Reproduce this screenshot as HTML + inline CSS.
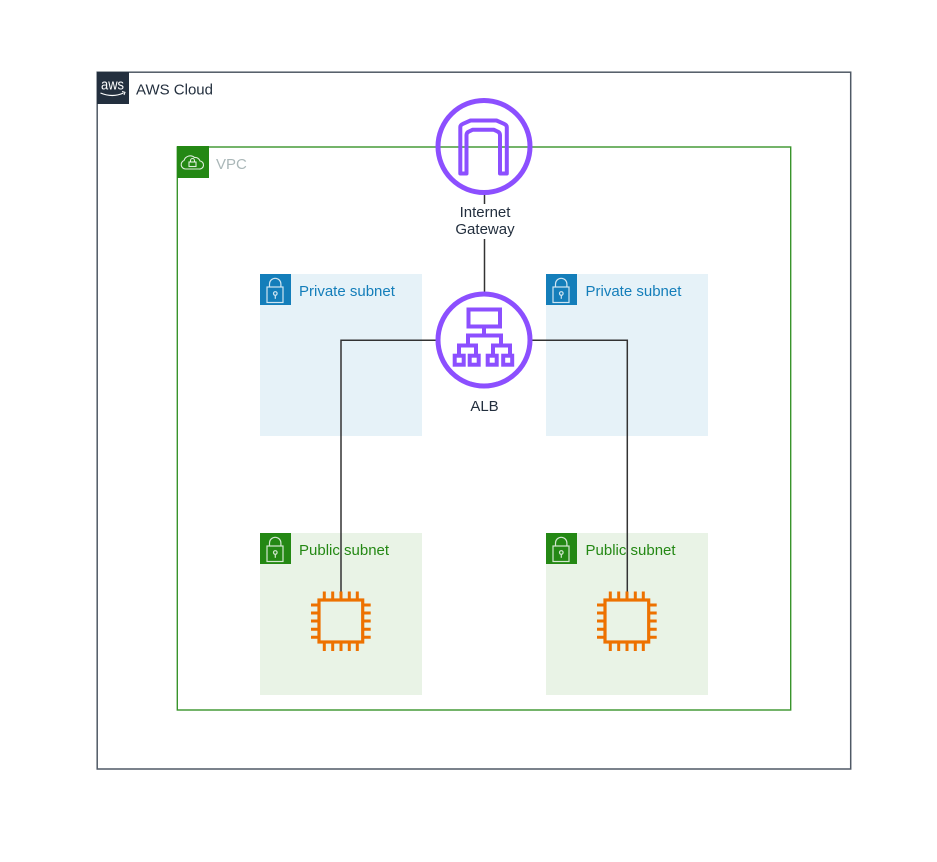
<!DOCTYPE html>
<html>
<head>
<meta charset="utf-8">
<style>
html,body{margin:0;padding:0;background:#fff;width:937px;height:862px;overflow:hidden}
svg{display:block}
text{font-family:"Liberation Sans",Arial,sans-serif;font-size:15px}
</style>
</head>
<body>
<svg width="937" height="862" viewBox="0 0 937 862" xmlns="http://www.w3.org/2000/svg">
<defs>
<g id="ec2" fill="none" stroke="#ED7100" stroke-width="3">
<rect x="319" y="600" width="43.700" height="42" stroke-width="3.200"/>
<path d="M324.300 600v-8.500M332.700 600v-8.500M341 600v-8.500M349.300 600v-8.500M357.300 600v-8.500M324.300 642v9M332.700 642v9M341 642v9M349.300 642v9M357.300 642v9M319 605h-8M319 613h-8M319 621h-8M319 629.300h-8M319 637.300h-8M362.700 605h8M362.700 613h8M362.700 621h8M362.700 629.300h8M362.700 637.300h8"/>
</g>
<g id="lock" fill="none" stroke="#fff" stroke-width="1.200" opacity=".8">
<rect x="267" y="287" width="16" height="15.500"/>
<path d="M269.500 287v-3a5.700 5.700 0 0 1 11.400 0v3"/>
<circle cx="275.300" cy="293.500" r="1.800"/>
<path d="M275.300 295.300v3.500"/>
</g>
</defs>

<rect x="97.200" y="72.200" width="753.500" height="696.800" fill="#fff" stroke="#232F3E" stroke-width="1.500" stroke-opacity=".8"/>
<rect x="97" y="72" width="32" height="32" fill="#232F3E"/>
<text x="101" y="89.500" fill="#fff" style="font-size:15px" textLength="23" lengthAdjust="spacingAndGlyphs">aws</text>
<path d="M100.500 93q12 5 23 0" fill="none" stroke="#fff" stroke-width="1.200"/>
<path d="M122 91.500l3 .8-1 2.700" fill="none" stroke="#fff" stroke-width="1"/>
<text x="136" y="94.500" fill="#232F3E">AWS Cloud</text>

<rect x="177.300" y="147" width="613.400" height="563" fill="none" stroke="#248814" stroke-width="1.400" stroke-opacity=".9"/>
<rect x="177" y="146" width="32" height="32" fill="#248814"/>
<path d="M186 169h13a4 4 0 0 0 1-8 5 5 0 0 0-5.500-3.500 6.500 6.500 0 0 0-10.500 3 4.400 4.400 0 0 0 1.500 8.500z" fill="none" stroke="#fff" stroke-width="1.100" opacity=".85"/>
<rect x="189" y="162" width="7" height="4.500" fill="none" stroke="#fff" stroke-width="1.100" opacity=".85"/>
<path d="M190.500 162v-1.500a2 2 0 0 1 4 0v1.500" fill="none" stroke="#fff" stroke-width="1.100" opacity=".85"/>
<text x="216" y="169" fill="#AAB7B8">VPC</text>

<rect x="260" y="274" width="162" height="162" fill="#E6F2F8"/>
<rect x="260" y="274" width="31" height="31" fill="#147EBA"/>
<use href="#lock"/>
<text x="299" y="296" fill="#147EBA">Private subnet</text>

<rect x="546" y="274" width="162" height="162" fill="#E6F2F8"/>
<rect x="546" y="274" width="31" height="31" fill="#147EBA"/>
<use href="#lock" transform="translate(286 0)"/>
<text x="585.500" y="296" fill="#147EBA">Private subnet</text>

<rect x="260" y="533" width="162" height="162" fill="#E9F3E6"/>
<rect x="260" y="533" width="31" height="31" fill="#248814"/>
<use href="#lock" transform="translate(0 259)"/>
<text x="299" y="555" fill="#248814">Public subnet</text>

<rect x="546" y="533" width="162" height="162" fill="#E9F3E6"/>
<rect x="546" y="533" width="31" height="31" fill="#248814"/>
<use href="#lock" transform="translate(286 259)"/>
<text x="585.500" y="555" fill="#248814">Public subnet</text>

<g fill="none" stroke="#333" stroke-width="1.500">
<path d="M484.500 194V292"/>
<path d="M436 340.300H341V592"/>
<path d="M532 340.300H627.300V592"/>
</g>

<rect x="450" y="204" width="70" height="35" fill="#fff"/>
<text x="485" y="217" fill="#232F3E" text-anchor="middle">Internet</text>
<text x="485" y="234" fill="#232F3E" text-anchor="middle">Gateway</text>

<circle cx="484" cy="146.500" r="46" fill="none" stroke="#8C4FFF" stroke-width="5"/>
<path d="M460.300 173.500V127Q460.300 125 463 123.800L470.500 120.500H496.500L504 123.800Q506.800 125 506.800 127V173.500H500V135Q500 132.500 497.500 131.500L494 129.800H472.500L469 131.500Q466.500 132.500 466.500 135V173.500Z" fill="none" stroke="#8C4FFF" stroke-width="4" stroke-linejoin="round"/>

<circle cx="484" cy="340" r="46" fill="none" stroke="#8C4FFF" stroke-width="5"/>
<g fill="none" stroke="#8C4FFF" stroke-width="4">
<rect x="468.500" y="309.500" width="31.500" height="17"/>
<path d="M484 327v8M468 345v-9.500h33V345"/>
<path d="M459 355v-9.500h17V355M493 355v-9.500h17V355"/>
<rect x="454.700" y="355.700" width="9" height="9"/>
<rect x="469.700" y="355.700" width="9" height="9"/>
<rect x="487.700" y="355.700" width="9" height="9"/>
<rect x="503.200" y="355.700" width="9" height="9"/>
</g>
<text x="484.500" y="411" fill="#232F3E" text-anchor="middle">ALB</text>

<use href="#ec2"/>
<use href="#ec2" transform="translate(286 0)"/>
</svg>
</body>
</html>
